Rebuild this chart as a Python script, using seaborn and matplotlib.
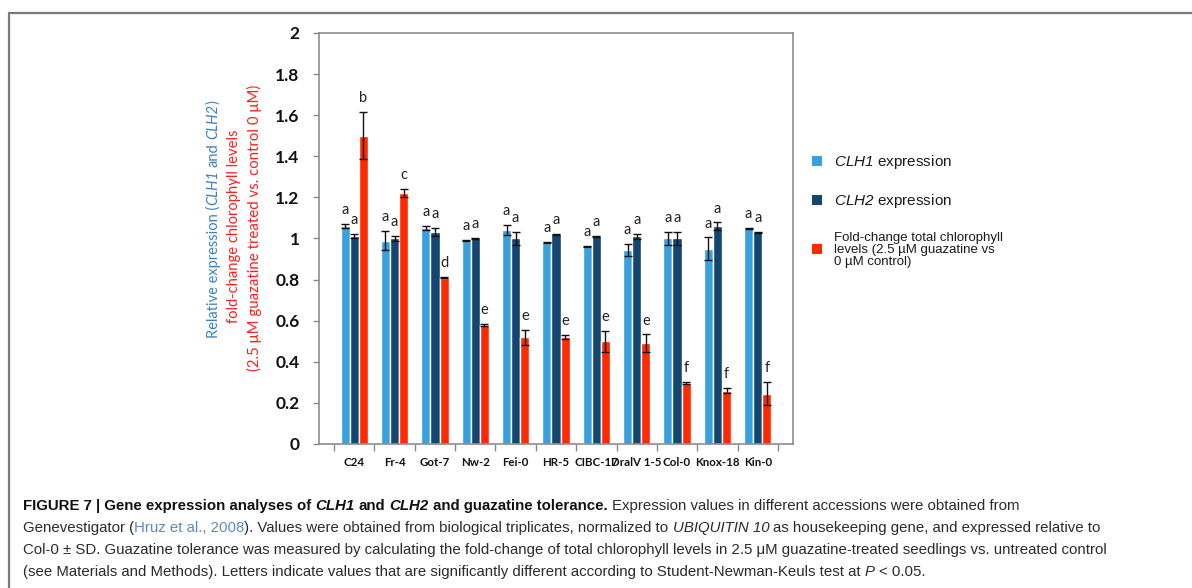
import matplotlib
matplotlib.use("Agg")
import matplotlib.pyplot as plt
import seaborn as sns
import pandas as pd
from matplotlib.lines import Line2D

# ---- data -------------------------------------------------------------
accessions = ["C24", "Fr-4", "Got-7", "Nw-2", "Fei-0", "HR-5", "CIBC-17",
              "DralV 1-5", "Col-0", "Knox-18", "Kin-0"]
clh1 = [1.06, 0.99, 1.05, 0.99, 1.04, 0.98, 0.96, 0.945, 1.00, 0.95, 1.05]
clh1_sd = [0.010, 0.045, 0.010, 0.003, 0.025, 0.003, 0.003, 0.030, 0.030, 0.055, 0.003]
clh2 = [1.01, 1.00, 1.03, 1.00, 1.00, 1.02, 1.01, 1.01, 1.00, 1.06, 1.03]
clh2_sd = [0.010, 0.012, 0.020, 0.003, 0.030, 0.003, 0.003, 0.012, 0.030, 0.018, 0.003]
chl = [1.50, 1.22, 0.81, 0.58, 0.52, 0.52, 0.50, 0.49, 0.295, 0.26, 0.245]
chl_sd = [0.115, 0.020, 0.003, 0.006, 0.037, 0.010, 0.050, 0.043, 0.005, 0.012, 0.055]
clh1_letters = ["a"] * 11
clh2_letters = ["a"] * 11
chl_letters = ["b", "c", "d", "e", "e", "e", "e", "e", "f", "f", "f"]
series_names = ["CLH1", "CLH2", "Chl"]
series_colors = ["#38a0dc", "#15466f", "#ff2a00"]
y_ticks = [0, 0.2, 0.4, 0.6, 0.8, 1.0, 1.2, 1.4, 1.6, 1.8, 2.0]
y_ticklabels = ["0", "0.2", "0.4", "0.6", "0.8", "1", "1.2", "1.4", "1.6", "1.8", "2"]

# ---- style ------------------------------------------------------------
sns.set_theme(style="white")
plt.rcParams["font.family"] = ["Lato", "DejaVu Sans"]
plt.rcParams["mathtext.fontset"] = "custom"
plt.rcParams["mathtext.it"] = "Liberation Sans:italic"
plt.rcParams["mathtext.rm"] = "Liberation Sans:italic"

W, H = 1192, 588
fig = plt.figure(figsize=(W / 100, H / 100), dpi=100)
fig.patch.set_facecolor("white")
ax = fig.add_axes([319 / W, 1 - 444 / H, (793 - 319) / W, (444 - 33) / H])

df = pd.DataFrame({
    "accession": accessions * 3,
    "series": [s for s in series_names for _ in accessions],
    "value": clh1 + clh2 + chl,
})
sns.barplot(data=df, x="accession", y="value", hue="series", order=accessions,
            hue_order=series_names, palette=series_colors, width=0.68,
            errorbar=None, saturation=1, gap=0, legend=False, ax=ax)

# error bars and significance letters on top of each bar
for container, sds, letters in zip(ax.containers, [clh1_sd, clh2_sd, chl_sd],
                                   [clh1_letters, clh2_letters, chl_letters]):
    xs = [b.get_x() + b.get_width() / 2 for b in container]
    ys = [b.get_height() for b in container]
    ax.errorbar(xs, ys, yerr=sds, fmt="none", ecolor="#111111", elinewidth=1,
                capsize=2.6, capthick=1, zorder=5)
    for x, y, sd, let in zip(xs, ys, sds, letters):
        ax.annotate(let, (x, y + sd), xytext=(0, 5), textcoords="offset points",
                    ha="center", va="bottom", fontsize=10.5, color="#222222")

ax.set_ylim(0, 2)
ax.set_yticks(y_ticks)
ax.set_yticklabels(y_ticklabels, fontsize=12.5, fontweight="bold", color="#111111")
ax.set_xticks(range(len(accessions)))
ax.set_xticklabels(accessions, fontsize=8.3, fontweight="bold", color="#111111")
ax.set_xticks([i + 0.5 for i in range(-1, len(accessions))], minor=True)
ax.tick_params(axis="x", which="major", length=0, pad=9)
ax.tick_params(axis="x", which="minor", length=5, width=1, color="#888888", bottom=True)
ax.tick_params(axis="y", length=4, width=1, color="#888888", left=True, pad=10)
ax.set_xlabel("")
ax.set_ylabel("")
for side in ["left", "bottom", "top", "right"]:
    ax.spines[side].set_visible(True)
    ax.spines[side].set_color("#8c8c8c")
    ax.spines[side].set_linewidth(1.2)

# ---- legend -------------------------------------------------------------
handles = [Line2D([], [], marker="s", ls="none", color=c, markersize=6.5,
                  markeredgewidth=0) for c in series_colors]
labels = [r"$CLH1$ expression", r"$CLH2$ expression",
          "Fold-change total chlorophyll\nlevels (2.5 µM guazatine vs\n0 µM control)"]
leg = ax.legend(handles, labels, loc="upper left", bbox_to_anchor=(811 / W, 1 - 153 / H),
                bbox_transform=fig.transFigure, frameon=False, borderpad=0,
                borderaxespad=0, handlelength=0.8, handletextpad=0.7,
                labelspacing=1.4, prop={"family": "Liberation Sans", "size": 11})
for t in leg.get_texts():
    t.set_color("#1a1a1a")
leg.get_texts()[2].set_fontsize(9.5)
leg.get_texts()[2].set_linespacing(1.0)

# ---- text helpers -------------------------------------------------------
renderer = fig.canvas.get_renderer()


def text_width(s, **kw):
    t = fig.text(0, 0, s, **kw)
    w = t.get_window_extent(renderer).width
    t.remove()
    return w


def place_runs(x, y, runs, rotation=0, center=False, **common):
    """Draw a sequence of differently styled pieces of text one after another."""
    items = []
    for s, kw in runs:
        props = {**common, **kw}
        lead = len(s) - len(s.lstrip(" "))
        trail = len(s) - len(s.rstrip(" "))
        core = s.strip(" ")
        sp = text_width("a a", **props) - text_width("aa", **props)
        items.append((core, props, lead * sp, text_width(core, **props), trail * sp))
    total = sum(a + w + b for _, _, a, w, b in items)
    pos = -total / 2 if center else 0
    for core, props, a, w, b in items:
        pos += a
        if rotation == 90:
            fig.text(x / W, (y + pos) / H, core, rotation=90, rotation_mode="anchor",
                     ha="left", va="center", **props)
        else:
            fig.text((x + pos) / W, y / H, core, ha="left", va="baseline", **props)
        pos += w + b


# ---- y-axis title (three lines) -----------------------------------------
blue = "#3b80bf"
red = "#ff1e1e"
place_runs(213, H - 219, [("Relative expression (", {}), ("CLH1", {"style": "italic"}),
                          (" and ", {}), ("CLH2", {"style": "italic"}), (")", {})],
           rotation=90, center=True, family="Lato", fontsize=10.5, color=blue)
place_runs(234, H - 226, [("fold-change chlorophyll levels", {})],
           rotation=90, center=True, family="Lato", fontsize=10.6, color=red)
place_runs(254, H - 228, [("(2.5 μM guazatine treated vs. control 0 μM)", {})],
           rotation=90, center=True, family="Lato", fontsize=10.8, color=red)

# ---- caption ------------------------------------------------------------
cap = {"family": "Liberation Sans", "fontsize": 10.8, "color": "#2b2b2b"}
b = {"weight": "bold", "color": "#111111"}
bi = {"weight": "bold", "style": "italic", "color": "#111111"}
it = {"style": "italic"}
place_runs(23, H - 510, [("FIGURE 7 | Gene expression analyses of ", b), ("CLH1", bi),
                         (" and ", b), ("CLH2", bi), (" and guazatine tolerance.", b),
                         (" Expression values in different accessions were obtained from", {})],
           **cap)
place_runs(23, H - 532, [("Genevestigator (", {}), ("Hruz et al., 2008", {"color": "#5a8ac6"}),
                         ("). Values were obtained from biological triplicates, normalized to ", {}),
                         ("UBIQUITIN 10", it),
                         (" as housekeeping gene, and expressed relative to", {})], **cap)
place_runs(23, H - 554, [("Col-0 ± SD. Guazatine tolerance was measured by calculating the "
                          "fold-change of total chlorophyll levels in 2.5 μM guazatine-treated "
                          "seedlings vs. untreated control", {})], **cap)
place_runs(23, H - 576, [("(see Materials and Methods). Letters indicate values that are "
                          "significantly different according to Student-Newman-Keuls test at ", {}),
                         ("P", it), (" < 0.05.", {})], **cap)

# ---- outer frame ----------------------------------------------------------
fig.add_artist(Line2D([9 / W, 1.0], [1 - 13 / H] * 2, transform=fig.transFigure,
                      color="#7a7a7a", lw=1.6))
fig.add_artist(Line2D([9 / W] * 2, [0.0, 1 - 13 / H], transform=fig.transFigure,
                      color="#7a7a7a", lw=1.6))

fig.savefig("out.png", dpi=100, facecolor="white")
